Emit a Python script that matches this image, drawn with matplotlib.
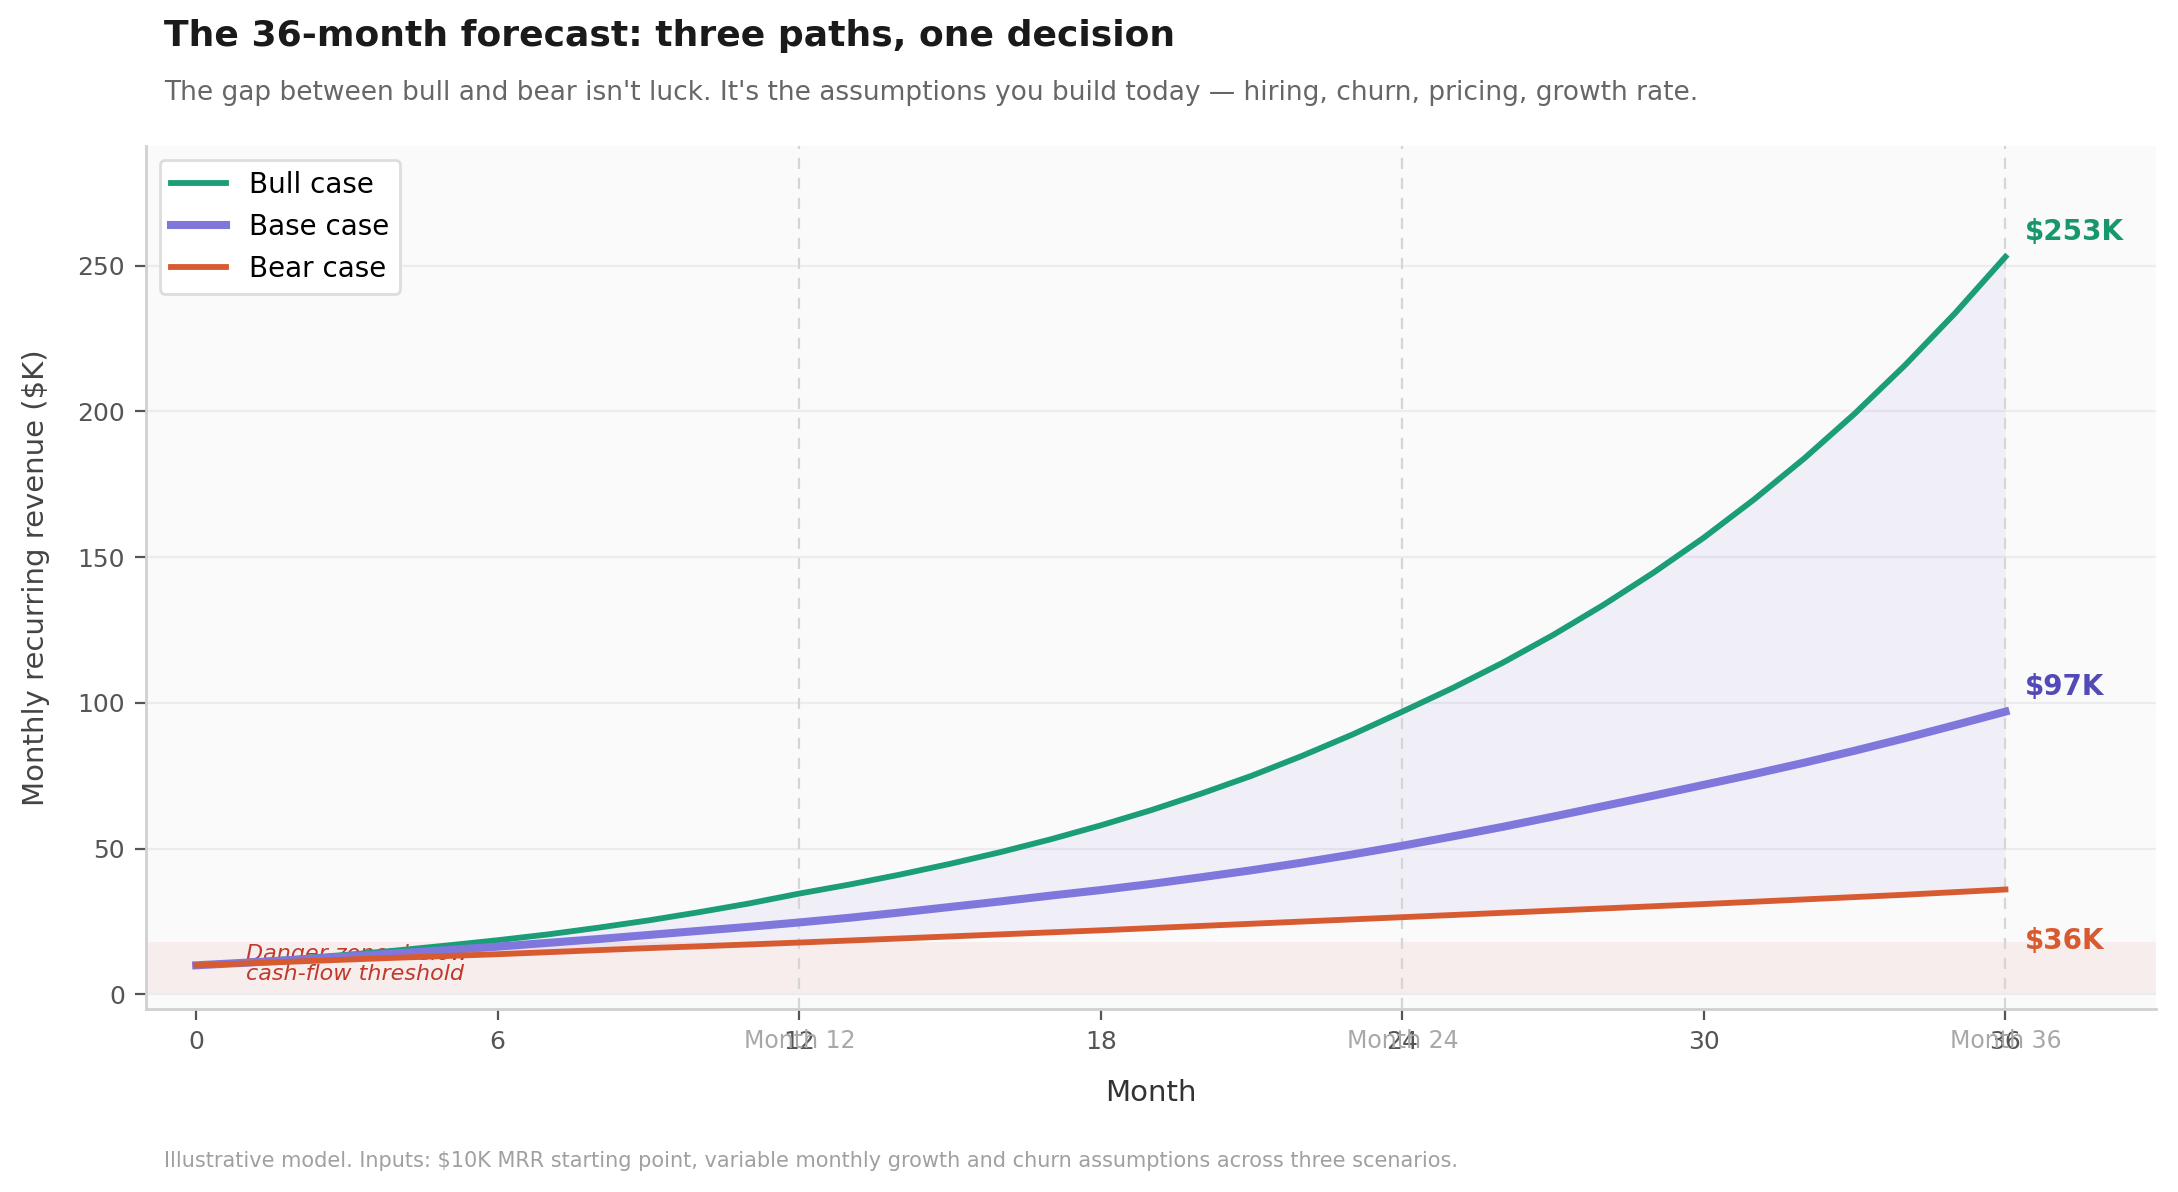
import numpy as np
import matplotlib.pyplot as plt
from matplotlib.transforms import blended_transform_factory

months = list(range(37))

# MRR in $K
bull = [10.0, 11.1, 12.3, 13.6, 15.1, 16.8, 18.6, 20.6, 22.9, 25.4, 28.2, 31.2,
        34.6, 37.7, 41.1, 44.8, 48.8, 53.2, 58.0, 63.2, 68.9, 75.0, 81.8, 89.1,
        97.0, 105.1, 113.8, 123.3, 133.6, 144.7, 156.7, 169.8, 183.9, 199.2,
        215.8, 233.7, 253.0]
base = [10.0, 10.9, 11.9, 13.0, 14.1, 15.2, 16.4, 17.7, 19.0, 20.4, 21.8, 23.2,
        24.7, 26.3, 28.1, 30.0, 31.9, 33.9, 35.8, 37.9, 40.2, 42.6, 45.2, 48.0,
        51.0, 54.2, 57.5, 61.0, 64.6, 68.2, 71.9, 75.6, 79.5, 83.6, 87.9, 92.4,
        97.0]
bear = [10.0, 10.65, 11.3, 11.95, 12.6, 13.2, 13.8, 14.5, 15.2, 15.9, 16.5, 17.15,
        17.8, 18.5, 19.2, 19.9, 20.6, 21.3, 22.0, 22.75, 23.5, 24.25, 25.0, 25.75,
        26.5, 27.25, 28.0, 28.75, 29.5, 30.25, 31.0, 31.8, 32.6, 33.4, 34.2, 35.1,
        36.0]

milestones = [12, 24, 36]
danger_level = 18
x_ticks = [0, 6, 12, 18, 24, 30, 36]
y_ticks = [0, 50, 100, 150, 200, 250]

c_bull = '#1b9e77'
c_base = '#8077dd'
c_bear = '#d85a30'

fig = plt.figure(figsize=(10.89, 5.96), dpi=200)
ax = fig.add_axes([0.067, 0.1535, 0.923, 0.724])
ax.set_facecolor('#fafafa')

# danger zone
ax.axhspan(0, danger_level, color='#e8b4b0', alpha=0.18, lw=0, zorder=0)
ax.text(1, 10.5, 'Danger zone: below\ncash-flow threshold', color='#c0392b',
        fontsize=8, style='italic', va='center', ha='left', linespacing=1.0, zorder=1)

# spread between bull and bear
ax.fill_between(months, bear, bull, color=c_base, alpha=0.08, lw=0, zorder=1)

for m in milestones:
    ax.axvline(m, color='#d5d5d5', lw=0.8, ls=(0, (5, 4)), zorder=1)

ax.plot(months, bull, color=c_bull, lw=2.1, label='Bull case', zorder=3)
ax.plot(months, base, color=c_base, lw=2.9, label='Base case', zorder=3)
ax.plot(months, bear, color=c_bear, lw=2.1, label='Bear case', zorder=3)

# end labels
ax.annotate(f'${bull[-1]:.0f}K', (months[-1], bull[-1]), xytext=(7, 9),
            textcoords='offset points', color='#17976b', fontsize=10,
            fontweight='bold', va='center', ha='left')
ax.annotate(f'${base[-1]:.0f}K', (months[-1], base[-1]), xytext=(7, 9),
            textcoords='offset points', color='#534ab7', fontsize=10,
            fontweight='bold', va='center', ha='left')
ax.annotate(f'${bear[-1]:.0f}K', (months[-1], bear[-1]), xytext=(7, -18.5),
            textcoords='offset points', color=c_bear, fontsize=10,
            fontweight='bold', va='center', ha='left')

trans = blended_transform_factory(ax.transData, ax.transAxes)
for m in milestones:
    ax.text(m, -0.037, f'Month {m}', transform=trans, ha='center', va='center',
            color='#a8a8a8', fontsize=8.5)

ax.set_xlim(-1, 39)
ax.set_ylim(-5, 291)
ax.set_xticks(x_ticks)
ax.set_yticks(y_ticks)
ax.tick_params(colors='#555555', labelsize=9, length=4, width=0.8)
ax.grid(axis='y', color='#ececec', lw=0.8)
ax.set_axisbelow(True)
for s in ['top', 'right']:
    ax.spines[s].set_visible(False)
for s in ['left', 'bottom']:
    ax.spines[s].set_color('#d0d0d0')
    ax.spines[s].set_linewidth(1.0)

ax.set_xlabel('Month', fontsize=10.5, color='#333333', labelpad=9)
ax.set_ylabel('Monthly recurring revenue ($K)', fontsize=10.5, color='#444444', labelpad=10)

leg = ax.legend(loc='upper left', fontsize=10, frameon=True, fancybox=True,
                edgecolor='#dddddd', framealpha=1.0)
leg.get_frame().set_linewidth(1.0)

fig.text(0.0753, 0.961, 'The 36-month forecast: three paths, one decision',
         fontsize=13, fontweight='bold', color='#1a1a1a', va='baseline')
fig.text(0.0753, 0.916, "The gap between bull and bear isn't luck. It's the assumptions "
         "you build today \u2014 hiring, churn, pricing, growth rate.",
         fontsize=9.5, color='#666666', va='baseline')
fig.text(0.0753, 0.021, 'Illustrative model. Inputs: $10K MRR starting point, variable '
         'monthly growth and churn assumptions across three scenarios.',
         fontsize=7.5, color='#a0a0a0', va='baseline')

fig.savefig('out.png', dpi=200)
